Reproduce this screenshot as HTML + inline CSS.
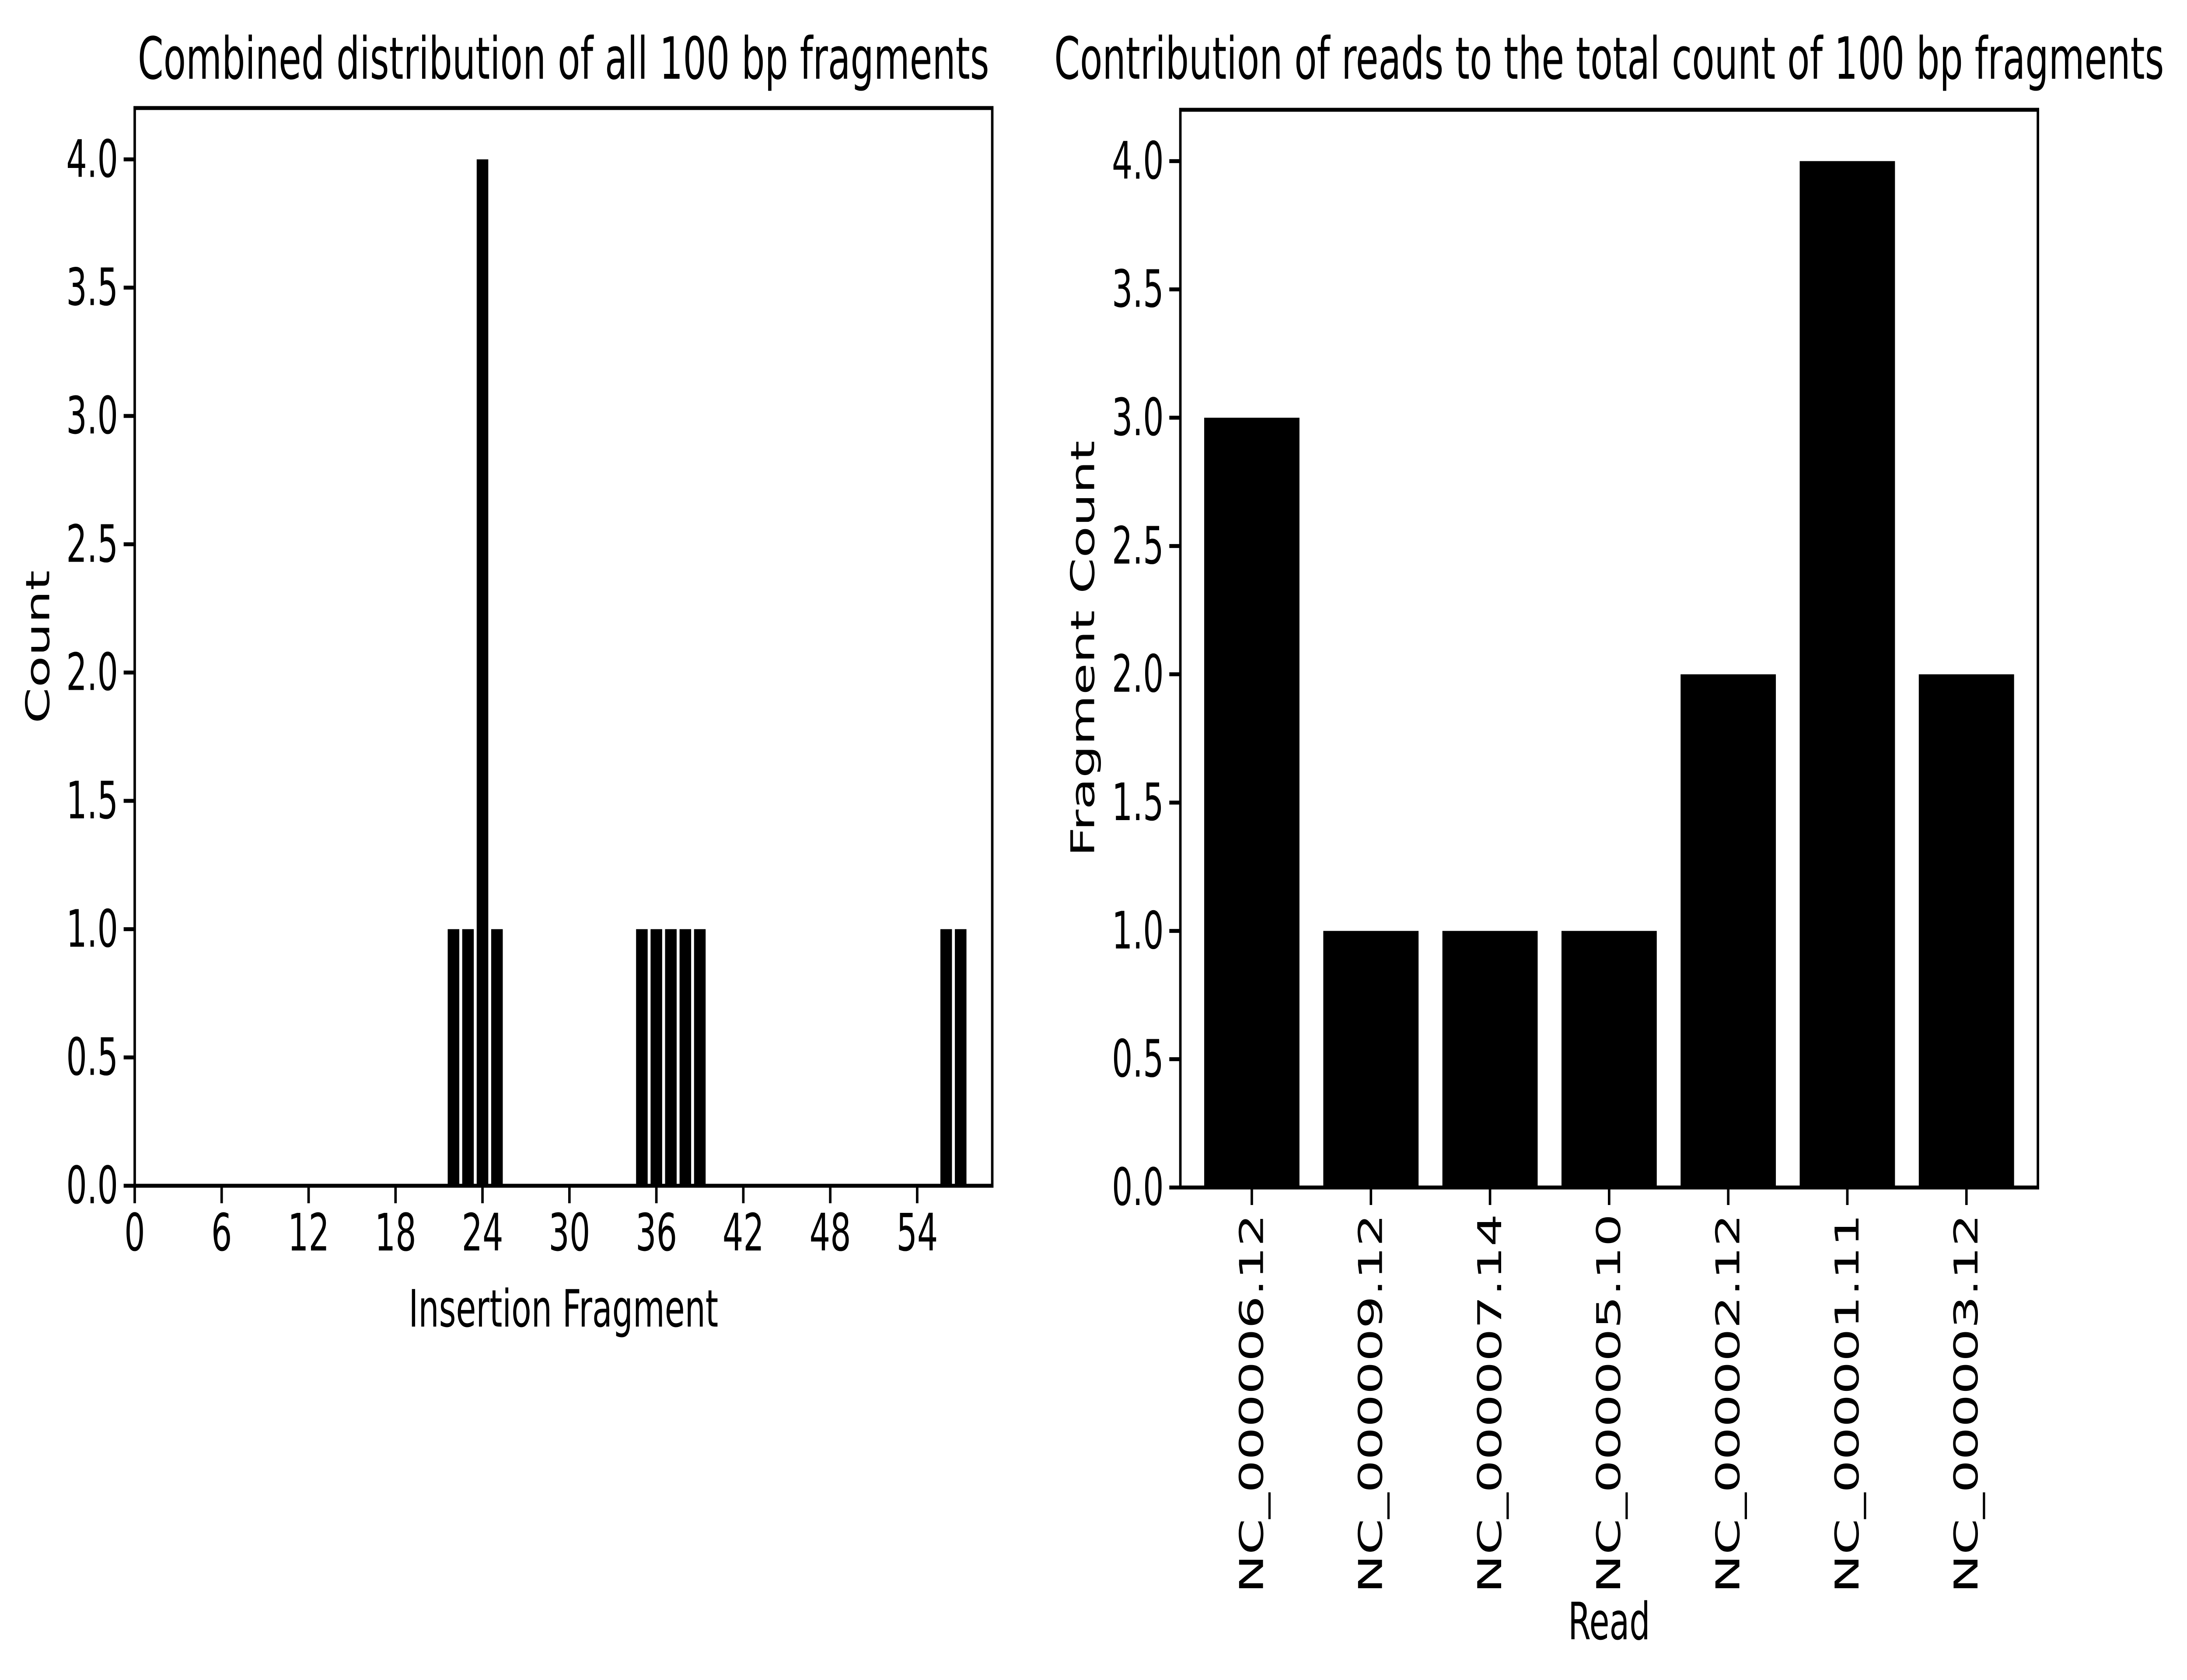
<!DOCTYPE html>
<html><head><meta charset="utf-8">
<style>
html,body{margin:0;padding:0;background:#fff;width:100%;height:100%;overflow:hidden;}
svg{display:block;width:100vw;height:100vh;}
text{font-family:"DejaVu Sans","Liberation Sans",sans-serif;fill:#000;}
</style></head>
<body>
<svg id="fig" viewBox="0 0 7906 3841" preserveAspectRatio="none" xmlns="http://www.w3.org/2000/svg">
<rect width="7906" height="3841" fill="#fff"/>
<g id="left"></g>
<g id="right"></g>
</svg>
<script>
// Left chart data
const histBins = [22, 23, 24, 25, 35, 36, 37, 38, 39, 56, 57];
const histCounts = [1, 1, 4, 1, 1, 1, 1, 1, 1, 1, 1];
const histXTicks = [0, 6, 12, 18, 24, 30, 36, 42, 48, 54];
const yTicks = [0, 0.5, 1, 1.5, 2, 2.5, 3, 3.5, 4];
// Right chart data
const reads = ["NC_000006.12","NC_000009.12","NC_000007.14","NC_000005.10","NC_000002.12","NC_000001.11","NC_000003.12"];
const readCounts = [3, 1, 1, 1, 2, 4, 2];

const NS = "http://www.w3.org/2000/svg";
function mk(parent, tag, attrs, txt){
  const e = document.createElementNS(NS, tag);
  for (const k in attrs) e.setAttribute(k, attrs[k]);
  if (txt !== undefined) e.textContent = txt;
  parent.appendChild(e);
  return e;
}
const TICK = 118, TITLE = 133, LW = 9, TL = 40;

function axesFrame(g, L, T, R, B, yScale){
  yTicks.forEach(v => {
    const y = yScale(v);
    const t = mk(g, "line", {x1: L - TL, x2: L, y1: y, y2: y, stroke: "#000", "stroke-width": LW});
    
    
    const lb = mk(g, "text", {x: L - TL - 20, y: y, "font-size": TICK, "text-anchor": "end", "dominant-baseline": "central"}, v.toFixed(1));
    
    
  });
}
function frameRect(g, L, T, R, B){
  const r = mk(g, "rect", {x: L, y: T, width: R - L, height: B - T, fill: "none", stroke: "#000", "stroke-width": LW});
  
  
}

// ---------- Left ----------
(function(){
  const g = document.getElementById("left");
  const L = 487, R = 3587, T = 247, B = 2711;
  const xmin = 0, xmax = 59.18, ymax = 4.2;
  const xs = v => L + (v - xmin) / (xmax - xmin) * (R - L);
  const ys = v => B - v / ymax * (B - T);
  histBins.forEach((b, i) => {
    const x0 = xs(b - 0.4), x1 = xs(b + 0.4);
    const r = mk(g, "rect", {x: x0, y: ys(histCounts[i]), width: x1 - x0, height: B - ys(histCounts[i]), fill: "#000"});
    
    
  });
  frameRect(g, L, T, R, B);
  axesFrame(g, L, T, R, B, ys);
  histXTicks.forEach(v => {
    const x = xs(v);
    const t = mk(g, "line", {x1: x, x2: x, y1: B, y2: B + TL, stroke: "#000", "stroke-width": LW});
    
    
    const lb = mk(g, "text", {x: x, y: B + TL + 20 + 88, "font-size": TICK, "text-anchor": "middle"}, String(v));
    
    
  });
  const t1 = mk(g, "text", {x: (L + R) / 2, y: 180, "font-size": TITLE, "text-anchor": "middle"}, "Combined distribution of all 100 bp fragments");
  
  
  const xl = mk(g, "text", {x: (L + R) / 2, y: 3033, "font-size": TICK, "text-anchor": "middle"}, "Insertion Fragment");
  
  
  const yl = mk(g, "text", {x: 0, y: 0, "font-size": TICK, "text-anchor": "middle", transform: `translate(178,${(T + B) / 2}) rotate(-90)`}, "Count");
  
  
})();

// ---------- Right ----------
(function(){
  const g = document.getElementById("right");
  const L = 4267, R = 7367, T = 251, B = 2715;
  const xmin = -0.6, xmax = reads.length - 0.4, ymax = 4.2;
  const xs = v => L + (v - xmin) / (xmax - xmin) * (R - L);
  const ys = v => B - v / ymax * (B - T);
  reads.forEach((name, i) => {
    const x0 = xs(i - 0.4), x1 = xs(i + 0.4);
    const r = mk(g, "rect", {x: x0, y: ys(readCounts[i]), width: x1 - x0, height: B - ys(readCounts[i]), fill: "#000"});
    
    
    const x = xs(i);
    const t = mk(g, "line", {x1: x, x2: x, y1: B, y2: B + TL, stroke: "#000", "stroke-width": LW});
    
    
    const lb = mk(g, "text", {x: 0, y: 0, "font-size": TICK, "text-anchor": "end", "dominant-baseline": "central", transform: `translate(${x},${B + TL + 20}) rotate(-90)`}, name);
    
    
  });
  frameRect(g, L, T, R, B);
  axesFrame(g, L, T, R, B, ys);
  const t1 = mk(g, "text", {x: (L + R) / 2, y: 180, "font-size": TITLE, "text-anchor": "middle"}, "Contribution of reads to the total count of 100 bp fragments");
  
  
  const xl = mk(g, "text", {x: (L + R) / 2, y: 3748, "font-size": TICK, "text-anchor": "middle"}, "Read");
  
  
  const yl = mk(g, "text", {x: 0, y: 0, "font-size": TICK, "text-anchor": "middle", transform: `translate(3955,${(T + B) / 2}) rotate(-90)`}, "Fragment Count");
  
  
})();
</script>
</body></html>
